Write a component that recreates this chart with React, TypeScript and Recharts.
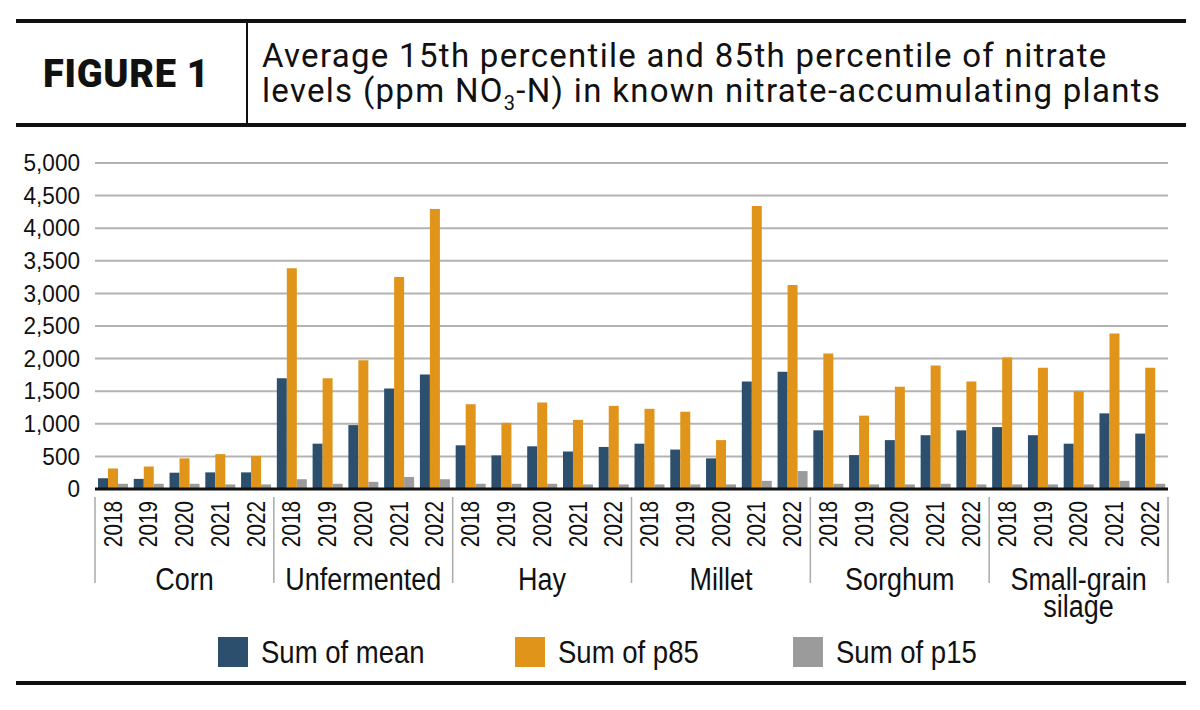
import { BarChart, Bar, XAxis, YAxis, CartesianGrid, Legend } from "recharts"

const groups = ["Corn", "Unfermented", "Hay", "Millet", "Sorghum", "Small-grain silage"]
const years = ["2018", "2019", "2020", "2021", "2022"]

// values per group, 2018..2022
const meanValues = [
  165, 155, 250, 255, 255,
  1700, 695, 980, 1540, 1755,
  670, 515, 655, 575, 645,
  695, 605, 470, 1650, 1800,
  900, 520, 750, 825, 900,
  950, 825, 695, 1160, 850,
]
const p85Values = [
  315, 345, 470, 535, 505,
  3385, 1700, 1975, 3250, 4295,
  1300, 1015, 1325, 1060, 1275,
  1230, 1185, 750, 4340, 3130,
  2080, 1125, 1570, 1895, 1650,
  2015, 1860, 1500, 2385, 1860,
]
const p15Values = [
  80, 80, 80, 70, 70,
  150, 80, 110, 185, 150,
  80, 80, 80, 70, 70,
  70, 70, 70, 125, 275,
  80, 70, 70, 80, 70,
  70, 70, 70, 125, 80,
]
const yTicks = [0, 500, 1000, 1500, 2000, 2500, 3000, 3500, 4000, 4500, 5000]

const series = [
  { key: "mean", name: "Sum of mean", color: "#2b4f6c" },
  { key: "p85", name: "Sum of p85", color: "#e0941a" },
  { key: "p15", name: "Sum of p15", color: "#9b9b9b" },
]

const data = groups.flatMap((group, g) =>
  years.map((year, i) => ({
    key: `${group}|${year}`,
    group,
    year,
    mean: meanValues[g * years.length + i],
    p85: p85Values[g * years.length + i],
    p15: p15Values[g * years.length + i],
  }))
)

const W = 1200
const H = 710
const margin = { top: 163, right: 32, bottom: 38, left: 0 }
const yAxisWidth = 95
const band = (W - margin.left - margin.right - yAxisWidth) / data.length
const sans = "'Liberation Sans', Arial, sans-serif"

function CategoryTick(props: any) {
  const { x, y, payload } = props
  const idx = data.findIndex((d) => d.key === payload.value)
  if (idx < 0) return null
  const row = data[idx]
  const pos = idx % years.length
  const words = row.group.includes(" ") ? row.group.split(" ") : [row.group]
  return (
    <g>
      <text
        transform={`translate(${x}, ${y + 12}) rotate(-90) scale(0.83, 1)`}
        textAnchor="end"
        dominantBaseline="central"
        fontSize={25}
        fontFamily={sans}
        fill="#111"
      >
        {row.year}
      </text>
      {pos === 0 && (
        <line x1={x - band / 2} x2={x - band / 2} y1={y + 8} y2={y + 94} stroke="#aaa" strokeWidth={1.5} />
      )}
      {idx === data.length - 1 && (
        <line x1={x + band / 2} x2={x + band / 2} y1={y + 8} y2={y + 94} stroke="#aaa" strokeWidth={1.5} />
      )}
      {pos === 2 && (
        <text
          transform={`translate(${x}, ${y + 101}) scale(0.87, 1)`}
          textAnchor="middle"
          fontSize={31}
          fontFamily={sans}
          fill="#111"
        >
          {words.map((w, i) => (
            <tspan key={w} x={0} dy={i === 0 ? 0 : 27}>
              {w}
            </tspan>
          ))}
        </text>
      )}
    </g>
  )
}

function ValueTick(props: any) {
  const { x, y, payload } = props
  return (
    <text
      transform={`translate(${x}, ${y}) scale(0.94, 1)`}
      textAnchor="end"
      dominantBaseline="central"
      fontSize={24}
      fontFamily={sans}
      fill="#111"
    >
      {Number(payload.value).toLocaleString("en-US")}
    </text>
  )
}

const legendLeft = [218, 515, 793]

function LegendContent() {
  return (
    <div style={{ position: "relative", height: 40, fontFamily: sans, fontSize: 32, color: "#111" }}>
      {series.map((s, i) => (
        <div
          key={s.key}
          style={{ position: "absolute", left: legendLeft[i], top: 0, height: 40, display: "flex", alignItems: "center", whiteSpace: "nowrap" }}
        >
          <span style={{ display: "inline-block", width: 30, height: 30, background: s.color, marginRight: 13 }} />
          <span style={{ display: "inline-block", transform: "scaleX(0.86)", transformOrigin: "left center" }}>{s.name}</span>
        </div>
      ))}
    </div>
  )
}

export default function App() {
  return (
    <div style={{ position: "absolute", left: 0, top: 0, width: W, height: H, background: "#fff", overflow: "hidden" }}>
      <div style={{ position: "absolute", left: 16, top: 19, width: 1170, height: 4, background: "#111" }} />
      <div style={{ position: "absolute", left: 16, top: 123, width: 1170, height: 4, background: "#111" }} />
      <div style={{ position: "absolute", left: 246, top: 23, width: 2, height: 100, background: "#111" }} />
      <div
        style={{
          position: "absolute",
          left: 43,
          top: 50,
          fontFamily: "Roboto, sans-serif",
          fontWeight: 900,
          fontSize: 38,
          letterSpacing: 0.7,
          lineHeight: "48px",
          color: "#111",
          whiteSpace: "nowrap",
        }}
      >
        FIGURE 1
      </div>
      <div
        style={{
          position: "absolute",
          left: 262,
          top: 38,
          fontFamily: "Roboto, sans-serif",
          fontSize: 33,
          letterSpacing: 1.3,
          lineHeight: "35px",
          color: "#111",
          whiteSpace: "nowrap",
        }}
      >
        <div>Average 15th percentile and 85th percentile of nitrate</div>
        <div>
          levels (ppm NO<sub style={{ fontSize: 20, lineHeight: 0 }}>3</sub>-N) in known nitrate-accumulating plants
        </div>
      </div>
      <div style={{ position: "absolute", left: 16, top: 681, width: 1170, height: 4, background: "#111" }} />
      <div style={{ position: "absolute", left: 0, top: 0 }}>
        <BarChart width={W} height={H} data={data} margin={margin} barCategoryGap={3} barGap={0}>
          <CartesianGrid vertical={false} stroke="#b3b3b3" strokeWidth={2} />
          <XAxis
            dataKey="key"
            interval={0}
            height={143}
            tickSize={0}
            tickMargin={0}
            tick={<CategoryTick />}
            axisLine={{ stroke: "#111", strokeWidth: 3 }}
            tickLine={false}
          />
          <YAxis
            width={yAxisWidth}
            domain={[0, 5000]}
            ticks={yTicks}
            interval={0}
            tickSize={0}
            tickMargin={15}
            axisLine={false}
            tickLine={false}
            tick={<ValueTick />}
          />
          {series.map((s) => (
            <Bar key={s.key} dataKey={s.key} name={s.name} fill={s.color} isAnimationActive={false} />
          ))}
          <Legend verticalAlign="bottom" height={40} content={<LegendContent />} />
        </BarChart>
      </div>
    </div>
  )
}
